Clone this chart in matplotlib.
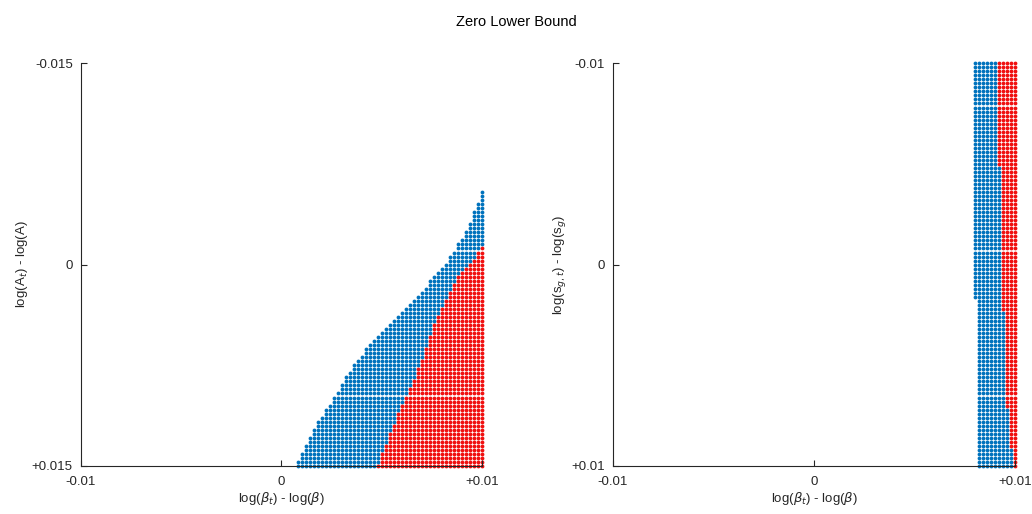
import numpy as np
import matplotlib
matplotlib.use('Agg')
import matplotlib.pyplot as plt

plt.rcParams['font.family'] = ['Liberation Sans', 'DejaVu Sans']
plt.rcParams['font.size'] = 9.5

BLUE = '#0072BD'
RED = '#F01010'

# grid of shocks (101 x 101) for each panel
left_x = np.linspace(-0.01, 0.01, 101)
left_y = np.linspace(-0.015, 0.015, 101)
right_x = np.linspace(-0.01, 0.01, 101)
right_y = np.linspace(-0.01, 0.01, 101)

# left panel: for each beta column, first row index of the region (blue)
left_cols = list(range(54, 101))
left_blue_top = [99, 97, 95, 93, 91, 89, 88, 86, 85, 83, 82,
                 80, 78, 77, 75, 74, 73, 71, 70, 69, 68,
                 67, 66, 65, 64, 63, 62, 61, 60, 59, 58,
                 57, 56, 54, 53, 52, 51, 50, 48, 47, 45,
                 44, 42, 40, 37, 35, 32]
# first row index where the ZLB binds (red)
left_red_cols = list(range(74, 101))
left_red_top = [100, 97, 95, 92, 90, 87, 85, 83, 81, 79,
                76, 74, 71, 68, 65, 63, 61, 59, 57, 55,
                53, 52, 51, 50, 49, 47, 46]

# right panel: row segments with first blue column and first red column
right_blue_rows = [0, 59]
right_blue_first = [90, 91]
right_red_rows = [0, 26, 62, 86, 96]
right_red_first = [96, 97, 98, 99, 100]


def seg_value(rows, vals, k):
    v = vals[0]
    for r, val in zip(rows, vals):
        if k >= r:
            v = val
    return v


# collect left points
lb_x, lb_y, lr_x, lr_y = [], [], [], []
red_map = dict(zip(left_red_cols, left_red_top))
for c, top in zip(left_cols, left_blue_top):
    rtop = red_map.get(c, 101)
    for k in range(top, 101):
        if k >= rtop:
            lr_x.append(left_x[c]); lr_y.append(left_y[k])
        else:
            lb_x.append(left_x[c]); lb_y.append(left_y[k])

# collect right points
rb_x, rb_y, rr_x, rr_y = [], [], [], []
for k in range(101):
    b0 = seg_value(right_blue_rows, right_blue_first, k)
    r0 = seg_value(right_red_rows, right_red_first, k)
    for c in range(b0, 101):
        if c >= r0:
            rr_x.append(right_x[c]); rr_y.append(right_y[k])
        else:
            rb_x.append(right_x[c]); rb_y.append(right_y[k])

fig = plt.figure(figsize=(10.32, 5.14), dpi=100)
ax1 = fig.add_axes([0.0785, 0.0934, 0.3885, 0.7836])
ax2 = fig.add_axes([0.594, 0.0934, 0.3895, 0.7836])

ms = 7.5
ax1.scatter(lb_x, lb_y, s=ms, color=BLUE, linewidths=0, clip_on=False)
ax1.scatter(lr_x, lr_y, s=ms, color=RED, linewidths=0, clip_on=False)
ax2.scatter(rb_x, rb_y, s=ms, color=BLUE, linewidths=0, clip_on=False)
ax2.scatter(rr_x, rr_y, s=ms, color=RED, linewidths=0, clip_on=False)

ax1.set_xlim(-0.01, 0.01)
ax1.set_ylim(0.015, -0.015)
ax1.set_xticks([-0.01, 0, 0.01])
ax1.set_xticklabels(['-0.01', '0', '+0.01'])
ax1.set_yticks([-0.015, 0, 0.015])
ax1.set_yticklabels(['-0.015', '0', '+0.015'])
ax1.set_xlabel(r'log($\beta_t$) - log($\beta$)', labelpad=2)
ax1.set_ylabel(r'log(A$_t$) - log(A)', labelpad=1)

ax2.set_xlim(-0.01, 0.01)
ax2.set_ylim(0.01, -0.01)
ax2.set_xticks([-0.01, 0, 0.01])
ax2.set_xticklabels(['-0.01', '0', '+0.01'])
ax2.set_yticks([-0.01, 0, 0.01])
ax2.set_yticklabels(['-0.01', '0', '+0.01'])
ax2.set_xlabel(r'log($\beta_t$) - log($\beta$)', labelpad=2)
ax2.set_ylabel(r'log(s$_{g,t}$) - log(s$_g$)', labelpad=2)

for ax in (ax1, ax2):
    for s in ('top', 'right'):
        ax.spines[s].set_visible(False)
    for s in ('left', 'bottom'):
        ax.spines[s].set_color('#262626')
        ax.spines[s].set_linewidth(0.8)
    ax.tick_params(direction='in', length=4, width=0.8, colors='#262626',
                   labelsize=9.5)
    ax.tick_params(axis='x', pad=7)
    ax.tick_params(axis='y', pad=6)
    ax.xaxis.label.set_color('#262626')
    ax.yaxis.label.set_color('#262626')

fig.text(0.5, 0.958, 'Zero Lower Bound', ha='center', va='center',
         fontsize=10.5, color='#000000')

fig.savefig('out.png', dpi=100)
